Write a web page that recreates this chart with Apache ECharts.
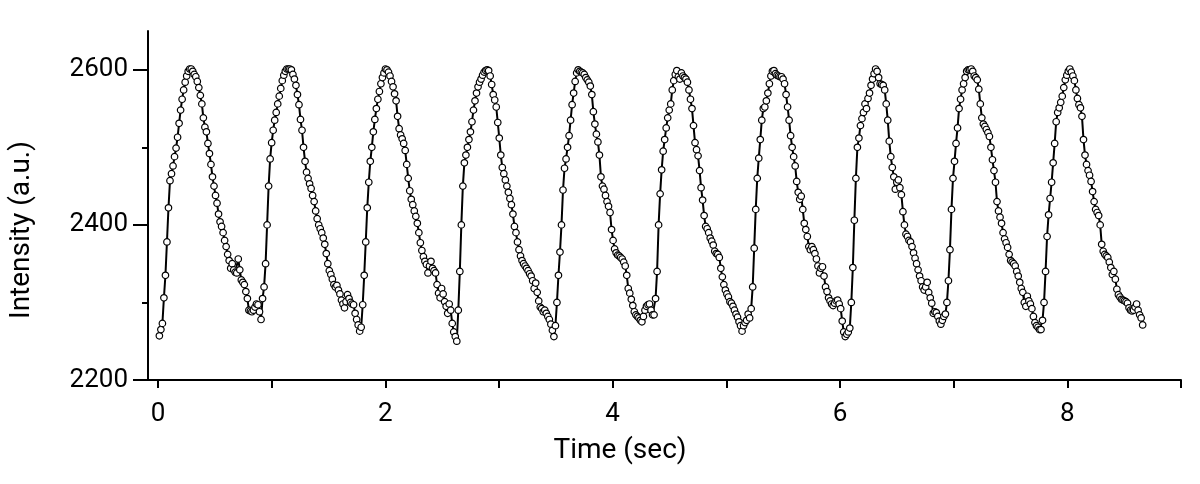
<!DOCTYPE html>
<html>
<head>
<meta charset="utf-8">
<script src="https://cdn.jsdelivr.net/npm/echarts@6/dist/echarts.min.js"></script>
<style>
html,body{margin:0;padding:0;background:#fff;}
#chart{width:1200px;height:484px;}
</style>
</head>
<body>
<div id="chart"></div>
<script>
// Acquisition: first sample time and sampling interval (seconds)
const startTime = 0.012;
const sampleInterval = 0.01335;

// Intensity samples (a.u.), one per sample
const intensity = [
// cycle 1
2257,2265,2273,2306,2335,2378,2422,2457,2466,2476,
2488,2499,2513,2531,2548,2562,2574,2584,2592,2598,
2601,2601,2598,2594,2591,2585,2577,2567,2556,2538,
2526,2520,2505,2492,2478,2462,2450,2438,2428,2414,
2404,2398,2390,2380,2372,2362,2354,2344,2350,2342,
2339,2338,2356,2342,2329,2326,2323,2314,2305,2290,
2289,2288,2290,2294,2298,2297,2288,2278,
// cycle 2
2305,2320,2350,2400,2450,2485,2506,2522,2535,2545,
2556,2566,2576,2586,2593,2598,2601,2601,
2601,2600,2594,2588,2580,2568,2555,2536,2522,2500,
2482,2468,2460,2453,2447,2438,2430,2418,2408,2400,
2395,2390,2383,2375,2363,2350,2341,2336,2330,2323,
2320,2322,2316,2311,2303,2298,2293,2301,2310,2305,
2300,2298,2297,2286,2278,2271,2263,
// cycle 3
2268,2297,2335,2378,2422,2455,2482,2500,2520,2536,
2550,2562,2572,2582,2590,2596,2601,2600,2597,2592,
2585,2578,2569,2560,2540,2524,2516,2511,2505,2496,
2478,2460,2444,2433,2426,2418,2411,2402,2390,2377,
2367,2359,2353,2349,2338,2347,2353,2344,2341,2338,
2323,2312,2306,2318,2311,2301,2295,2286,2298,2290,
2273,2262,
// cycle 4
2256,2250,2290,2340,2400,2450,2480,2490,2500,2510,
2520,2533,2548,2560,2570,2578,2584,2588,2593,2597,
2599,2600,2599,2592,2581,2568,2561,2552,2532,2512,
2490,2474,2466,2458,2450,2442,2434,2426,2414,2398,
2390,2378,2368,2360,2354,2350,2347,2344,2341,2337,
2334,2328,2318,2325,2313,2302,2294,2292,2288,2290,
2286,2282,2278,2272,2264,2256,
// cycle 5
2270,2300,2335,2365,2400,2445,2473,2485,2500,2515,
2535,2555,2570,2585,2596,2600,2598,2597,2596,2594,
2590,2587,2584,2579,2568,2546,2530,2517,2507,2490,
2462,2450,2446,2438,2430,2424,2416,2394,2380,2369,
2364,2361,2360,2358,2356,2352,2347,2335,2318,2312,
2304,2296,2288,2284,2282,2280,2277,2275,2282,2290,
2295,2297,2298,2290,2284,
// cycle 6
2284,2305,2340,2400,2440,2471,2495,2510,2525,2538,
2548,2556,2574,2586,2594,2599,2591,2588,2596,2592,
2590,2588,2584,2574,2562,2550,2528,2506,2497,2489,
2470,2448,2432,2412,2398,2395,2390,2383,2379,2374,
2366,2363,2362,2358,2344,2333,2323,2316,2311,2307,
2301,2299,2295,2290,2285,2281,2275,2270,2263,2270,
2274,2277,2285,2280,
// cycle 7
2292,2320,2370,2420,2460,2486,2510,2535,2550,2552,
2560,2570,2582,2592,2598,2599,2595,2593,2592,2591,
2591,2588,2582,2568,2552,2535,2515,2500,2488,2476,
2456,2442,2433,2437,2420,2402,2394,2385,2372,2368,
2372,2368,2363,2356,2347,2338,2344,2346,2334,2320,
2314,2306,2302,2298,2296,2299,2302,2303,2298,2292,
2276,2262,
// cycle 8
2256,2259,2262,2267,2300,2345,2406,2460,2500,2512,
2528,2537,2545,2556,2550,2563,2570,2580,2588,2595,
2601,2598,2590,2582,2581,2580,2574,2556,2535,2508,
2488,2474,2462,2446,2455,2458,2448,2439,2417,2400,
2388,2385,2380,2378,2372,2364,2357,2350,2342,2334,
2328,2320,2316,2320,2326,2313,2306,2299,2286,2288,
2287,2282,2276,2272,2277,2282,
// cycle 9
2285,2300,2328,2368,2420,2460,2482,2505,2525,2550,
2562,2574,2582,2590,2598,2600,2600,2601,2598,2592,
2590,2587,2575,2556,2538,2530,2527,2523,2519,2514,
2500,2484,2470,2455,2430,2418,2410,2402,2390,2382,
2377,2371,2362,2354,2352,2350,2347,2340,2334,2326,
2318,2313,2300,2295,2308,2302,2298,2292,2282,2274,
2270,2268,2265,
// cycle 10
2265,2277,2300,2340,2385,2413,2434,2455,2480,2505,
2533,2545,2551,2558,2566,2577,2587,2593,2598,2601,
2597,2592,2586,2574,2563,2555,2551,2540,2510,2490,
2478,2470,2464,2456,2443,2430,2420,2416,2412,2400,
2375,2366,2362,2360,2358,2352,2345,2336,2340,2330,
2317,2310,2307,2304,2303,2302,2301,2299,2293,2290,
2289,2290,2294,2298,2290,2284,2280,2271
];

// Axis ticks and labels
const xTickValues = [0,1,2,3,4,5,6,7,8,9];
const xLabelValues = [0,2,4,6,8];
const yMajorTicks = [2200,2400,2600];
const yMinorTicks = [2300,2500];
const xTitle = 'Time (sec)';
const yTitle = 'Intensity (a.u.)';

const points = intensity.map((v, i) => [+(startTime + i * sampleInterval).toFixed(5), v]);

const FONT = 'Roboto, "Liberation Sans", sans-serif';
const black = '#000';

const chart = echarts.init(document.getElementById('chart'), null, {renderer: 'canvas'});
chart.setOption({
  animation: false,
  backgroundColor: '#fff',
  grid: {left: 148, right: 19, top: 31, bottom: 104, containLabel: false},
  xAxis: {
    type: 'value', min: -0.088, max: 9,
    axisLine: {show: true, onZero: false, lineStyle: {color: black, width: 2}},
    axisTick: {show: true, customValues: xTickValues, length: 8, lineStyle: {color: black, width: 2}},
    axisLabel: {customValues: xLabelValues, margin: 21, fontSize: 26, color: black, fontFamily: FONT,
      formatter: v => String(v)},
    splitLine: {show: false}
  },
  yAxis: [{
    type: 'value', min: 2200, max: 2650, position: 'left',
    axisLine: {show: true, onZero: false, lineStyle: {color: black, width: 2}},
    axisTick: {show: true, customValues: yMajorTicks, length: 15, lineStyle: {color: black, width: 2}},
    axisLabel: {customValues: yMajorTicks, margin: 20, fontSize: 26, color: black, fontFamily: FONT,
      formatter: v => String(v)},
    splitLine: {show: false}
  }, {
    type: 'value', min: 2200, max: 2650, position: 'left',
    axisLine: {show: false, onZero: false},
    axisTick: {show: true, customValues: yMinorTicks, length: 6, lineStyle: {color: black, width: 2}},
    axisLabel: {show: false},
    splitLine: {show: false}
  }],
  graphic: [
    {type: 'text', x: 620, y: 451, style: {text: xTitle, font: '28px ' + FONT, fill: black,
      align: 'center', verticalAlign: 'middle', textAlign: 'center', textVerticalAlign: 'middle'}},
    {type: 'text', x: 22, y: 230, rotation: Math.PI / 2, style: {text: yTitle, font: '28px ' + FONT, fill: black,
      align: 'center', verticalAlign: 'middle', textAlign: 'center', textVerticalAlign: 'middle'}}
  ],
  series: [{
    type: 'line',
    data: points,
    yAxisIndex: 0,
    symbol: 'circle',
    symbolSize: 6.5,
    showSymbol: true,
    showAllSymbol: true,
    sampling: null,
    lineStyle: {color: black, width: 2},
    itemStyle: {color: '#fff', borderColor: black, borderWidth: 1.2},
    emphasis: {disabled: true}
  }]
});
</script>
</body>
</html>
